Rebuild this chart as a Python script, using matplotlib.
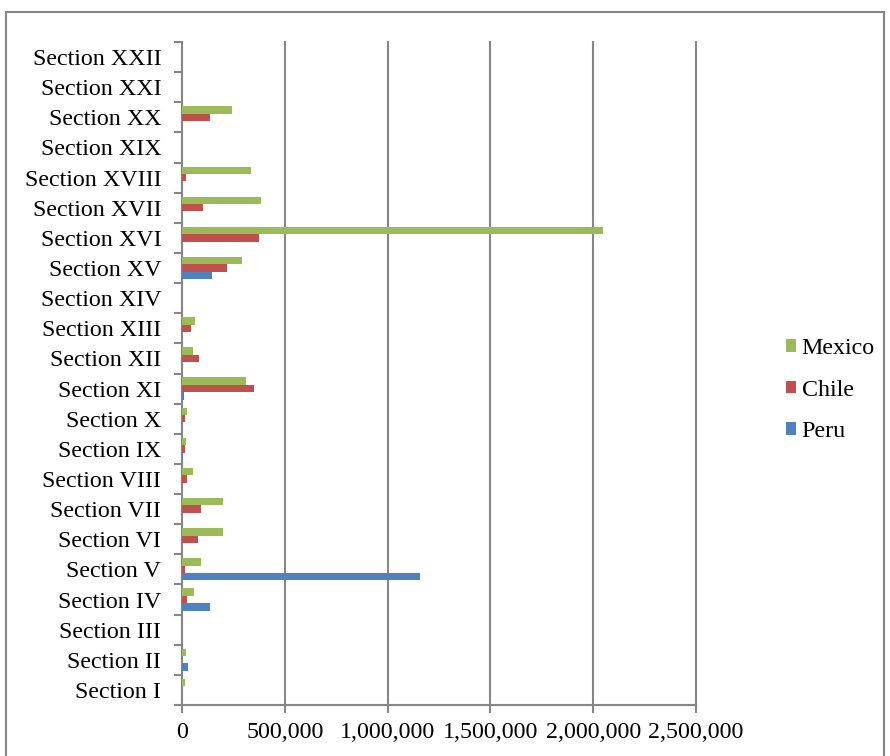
import matplotlib
matplotlib.use("Agg")
import matplotlib.pyplot as plt
import numpy as np
from matplotlib.ticker import FuncFormatter, FixedLocator
from matplotlib.patches import Rectangle

sections = ["Section I", "Section II", "Section III", "Section IV", "Section V",
            "Section VI", "Section VII", "Section VIII", "Section IX", "Section X",
            "Section XI", "Section XII", "Section XIII", "Section XIV", "Section XV",
            "Section XVI", "Section XVII", "Section XVIII", "Section XIX", "Section XX",
            "Section XXI", "Section XXII"]
peru = [2000, 29000, 2000, 138000, 1158000, 0, 0, 0, 3000, 0,
        8000, 0, 0, 0, 146000, 0, 0, 0, 0, 0, 0, 0]
chile = [0, 0, 0, 23000, 16000, 76000, 94000, 24000, 13000, 16000,
         349000, 84000, 44000, 0, 220000, 376000, 104000, 18000, 0, 138000, 0, 0]
mexico = [13000, 18000, 0, 58000, 92000, 198000, 198000, 52000, 18000, 26000,
          313000, 52000, 65000, 0, 293000, 2048000, 384000, 335000, 0, 241000, 0, 0]
xticks = [0, 500000, 1000000, 1500000, 2000000, 2500000]

plt.rcParams['font.family'] = ['Liberation Serif', 'DejaVu Serif']

fig = plt.figure(figsize=(8.90, 7.56), dpi=100)
ax = fig.add_axes([182/890, 1-705/756, (696-182)/890, (705-42)/756])

grey = '#868686'
fs = 17.3
y = np.arange(len(sections))
h = 0.245
ax.barh(y - h, peru, height=h, color='#4F81BD', label='Peru', zorder=3)
ax.barh(y, chile, height=h, color='#C0504D', label='Chile', zorder=3)
ax.barh(y + h, mexico, height=h, color='#9BBB59', label='Mexico', zorder=3)

ax.set_xlim(0, 2500000)
ax.set_ylim(-0.5, len(sections) - 0.5)
ax.set_xticks(xticks)
ax.xaxis.set_major_formatter(FuncFormatter(lambda v, p: f"{int(v):,}"))
ax.set_yticks(y)
ax.set_yticklabels(sections)
ax.yaxis.set_minor_locator(FixedLocator(np.arange(-0.5, len(sections), 1.0)))
ax.tick_params(axis='y', which='major', length=0, pad=15, labelsize=fs)
ax.tick_params(axis='y', which='minor', length=6, width=1.5, color=grey, direction='out')
ax.tick_params(axis='x', length=6, width=1.5, color=grey, pad=6, labelsize=fs)

for xv in xticks[1:]:
    ax.axvline(xv, color=grey, linewidth=1.5, zorder=0, clip_on=False)
for s in ['top', 'right']:
    ax.spines[s].set_visible(False)
for s in ['left', 'bottom']:
    ax.spines[s].set_color(grey)
    ax.spines[s].set_linewidth(1.5)

handles, labels = ax.get_legend_handles_labels()
leg = fig.legend(handles[::-1], labels[::-1], loc='center left',
                 bbox_to_anchor=(764/890, 1-390/756), frameon=False,
                 fontsize=fs, handlelength=0.42, handleheight=0.42,
                 handletextpad=0.25, labelspacing=0.85)

fig.patches.append(Rectangle((6/890, -0.01), (884-6)/890, 1 - 12/756 + 0.01,
                             transform=fig.transFigure, fill=False,
                             edgecolor=grey, linewidth=1.5))

fig.savefig("out.png", dpi=100)
